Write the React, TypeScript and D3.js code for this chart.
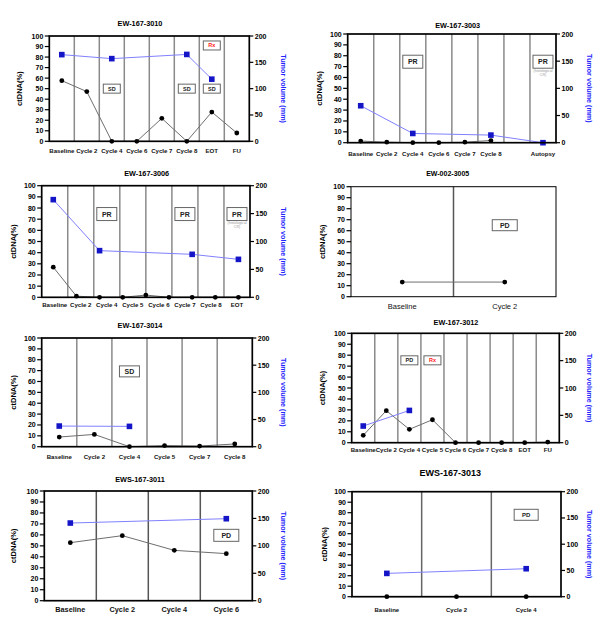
import React from 'react';
import * as d3 from 'd3';

type Note = { text: string; at: number; y: number; kind: 'response' | 'treatment'; sub?: string[] };

// ---------- DATA ----------
const title1 = 'EW-167-3010';
const cats1 = ['Baseline', 'Cycle 2', 'Cycle 4', 'Cycle 6', 'Cycle 7', 'Cycle 8', 'EOT', 'FU'];
const ctdna1 = [57.6, 47.2, 0, 0, 21.8, 0, 27.8, 7.9];
const tumor1 = [164.6, null, 157, null, null, 165, 118, null];
const notes1: Note[] = [
  { text: 'SD', at: 2, y: 50, kind: 'response' },
  { text: 'SD', at: 5, y: 50, kind: 'response' },
  { text: 'SD', at: 6, y: 50, kind: 'response' },
  { text: 'Rx', at: 6, y: 91, kind: 'treatment' },
];

const title2 = 'EW-167-3003';
const cats2 = ['Baseline', 'Cycle 2', 'Cycle 4', 'Cycle 6', 'Cycle 7', 'Cycle 8', '', 'Autopsy'];
const ctdna2 = [1.5, 0.5, 0, 0, 0.5, 2, null, null];
const tumor2 = [68, null, 17, null, null, 14, null, 0];
const notes2: Note[] = [
  { text: 'PR', at: 2, y: 74.5, kind: 'response' },
  { text: 'PR', at: 7, y: 74.5, kind: 'response', sub: ['(histological', 'CR)'] },
];

const title3 = 'EW-167-3006';
const cats3 = ['Baseline', 'Cycle 2', 'Cycle 4', 'Cycle 5', 'Cycle 6', 'Cycle 7', 'Cycle 8', 'EOT'];
const ctdna3 = [27, 1, 0, 0, 2, 0, 0, 0, 0];
const tumor3 = [175, null, 83.6, null, null, null, 77, null, 68];
const notes3: Note[] = [
  { text: 'PR', at: 2, y: 74.6, kind: 'response' },
  { text: 'PR', at: 5, y: 74.6, kind: 'response' },
  { text: 'PR', at: 7, y: 74.6, kind: 'response', sub: ['(histological', 'CR)'] },
];

const title4 = 'EW-002-3005';
const cats4 = ['Baseline', 'Cycle 2'];
const ctdna4 = [13.3, 13.3];
const notes4: Note[] = [{ text: 'PD', at: 1, y: 65, kind: 'response' }];

const title5 = 'EW-167-3014';
const cats5 = ['Baseline', 'Cycle 2', 'Cycle 4', 'Cycle 5', 'Cycle 7', 'Cycle 8'];
const ctdna5 = [8.9, 11.3, 0, 1, 0.6, 2.5];
const tumor5 = [38, null, 37.4, null, null, null];
const notes5: Note[] = [{ text: 'SD', at: 2, y: 69.3, kind: 'response' }];

const title6 = 'EW-167-3012';
const cats6 = ['Baseline', 'Cycle 2', 'Cycle 4', 'Cycle 5', 'Cycle 6', 'Cycle 7', 'Cycle 8', 'EOT', 'FU'];
const ctdna6 = [6.7, 29.3, 12.2, 21, 0, 0, 0, 0, 0.6];
const tumor6 = [30.5, null, 59, null, null, null, null, null, null];
const notes6: Note[] = [
  { text: 'PD', at: 2, y: 75.3, kind: 'response' },
  { text: 'Rx', at: 3, y: 75.3, kind: 'treatment' },
];

const title7 = 'EWS-167-3011';
const cats7 = ['Baseline', 'Cycle 2', 'Cycle 4', 'Cycle 6'];
const ctdna7 = [52.9, 59.3, 45.9, 42.9];
const tumor7 = [141.6, null, null, 149.5];
const notes7: Note[] = [{ text: 'PD', at: 3, y: 59.6, kind: 'response' }];

const title8 = 'EWS-167-3013';
const cats8 = ['Baseline', 'Cycle 2', 'Cycle 4'];
const ctdna8 = [0, 0, 0];
const tumor8 = [44.4, null, 53.3];
const notes8: Note[] = [{ text: 'PD', at: 2, y: 78, kind: 'response' }];

const leftTicks = [0, 10, 20, 30, 40, 50, 60, 70, 80, 90, 100];
const rightTicks = [0, 50, 100, 150, 200];

// ---------- LAYOUT ----------
type Layout = {
  x0: number; x1: number; y0: number; y1: number;
  tx: number; ty: number; tfs: number;
  catY: number; catFs: number; catWeight: number;
  lx: number; rx: number | null;
  bw: number; bh: number; bfs: number;
  frame: number; sep: string;
};

const panels: { title: string; cats: string[]; ctdna: (number | null)[]; tumor: (number | null)[] | null; notes: Note[]; l: Layout }[] = [
  { title: title1, cats: cats1, ctdna: ctdna1, tumor: tumor1, notes: notes1,
    l: { x0: 49.3, x1: 249.3, y0: 36, y1: 141.3, tx: 140, ty: 23, tfs: 7.3, catY: 150.7, catFs: 6.1, catWeight: 700, lx: 19, rx: 283, bw: 17, bh: 9, bfs: 5.5, frame: 1.7, sep: '#8a8a8a' } },
  { title: title2, cats: cats2, ctdna: ctdna2, tumor: tumor2, notes: notes2,
    l: { x0: 347.7, x1: 556, y0: 34, y1: 142.7, tx: 457.7, ty: 25, tfs: 7.3, catY: 154, catFs: 6.1, catWeight: 700, lx: 319.3, rx: 589.3, bw: 20, bh: 13, bfs: 7, frame: 1.7, sep: '#8a8a8a' } },
  { title: title3, cats: cats3, ctdna: ctdna3, tumor: tumor3, notes: notes3,
    l: { x0: 41.7, x1: 250, y0: 185.7, y1: 297.3, tx: 146.7, ty: 173.3, tfs: 7.3, catY: 305, catFs: 6.1, catWeight: 700, lx: 13.3, rx: 283.3, bw: 20, bh: 13, bfs: 7, frame: 1.7, sep: '#8a8a8a' } },
  { title: title4, cats: cats4, ctdna: ctdna4, tumor: null, notes: notes4,
    l: { x0: 351, x1: 556, y0: 186.7, y1: 296.7, tx: 447.7, ty: 173.3, tfs: 7, catY: 306.7, catFs: 7.5, catWeight: 400, lx: 322, rx: null, bw: 25, bh: 11, bfs: 7, frame: 1, sep: '#555' } },
  { title: title5, cats: cats5, ctdna: ctdna5, tumor: tumor5, notes: notes5,
    l: { x0: 41.7, x1: 252.3, y0: 338, y1: 446.7, tx: 140, ty: 325, tfs: 7.3, catY: 456.7, catFs: 6.1, catWeight: 700, lx: 13.3, rx: 283, bw: 20, bh: 11, bfs: 7, frame: 1.7, sep: '#8a8a8a' } },
  { title: title6, cats: cats6, ctdna: ctdna6, tumor: tumor6, notes: notes6,
    l: { x0: 351.7, x1: 559.3, y0: 333.3, y1: 442.7, tx: 456, ty: 322.7, tfs: 7.3, catY: 450, catFs: 6.1, catWeight: 700, lx: 322, rx: 589, bw: 17, bh: 9, bfs: 5.5, frame: 1.7, sep: '#8a8a8a' } },
  { title: title7, cats: cats7, ctdna: ctdna7, tumor: tumor7, notes: notes7,
    l: { x0: 44.3, x1: 252.3, y0: 491, y1: 600.7, tx: 140, ty: 479, tfs: 7.3, catY: 609, catFs: 7.3, catWeight: 700, lx: 13.3, rx: 283, bw: 25, bh: 12, bfs: 7, frame: 1.7, sep: '#555' } },
  { title: title8, cats: cats8, ctdna: ctdna8, tumor: tumor8, notes: notes8,
    l: { x0: 352, x1: 561, y0: 491.7, y1: 596.7, tx: 450.3, ty: 473.3, tfs: 9, catY: 610, catFs: 6, catWeight: 700, lx: 324.3, rx: 589, bw: 24, bh: 11, bfs: 6, frame: 1.7, sep: '#666' } },
];

const FONT = '"Liberation Sans", Arial, sans-serif';

function Panel({ p }: { p: typeof panels[number] }) {
  const l = p.l;
  const x = d3.scaleBand<number>().domain(d3.range(p.cats.length)).range([l.x0, l.x1]);
  const cx = (i: number) => (x(i) as number) + x.bandwidth() / 2;
  const xp = d3.scaleBand<number>().domain(d3.range(p.ctdna.length)).range([l.x0, l.x1]);
  const px = (i: number) => (xp(i) as number) + xp.bandwidth() / 2;
  const y = d3.scaleLinear().domain([0, 100]).range([l.y1, l.y0]);
  const y2 = d3.scaleLinear().domain([0, 200]).range([l.y1, l.y0]);
  const midY = (l.y0 + l.y1) / 2;

  const ctPts = p.ctdna.map((v, i) => ({ v, i }));
  const ctLine = d3.line<{ v: number | null; i: number }>()
    .defined(d => d.v !== null)
    .x(d => px(d.i)).y(d => y(d.v as number));
  const tuPts = (p.tumor || []).map((v, i) => ({ v, i })).filter(d => d.v !== null);
  const tuLine = d3.line<{ v: number | null; i: number }>()
    .x(d => px(d.i)).y(d => y2(d.v as number));

  return (
    <g fontFamily={FONT}>
      <text x={l.tx} y={l.ty + l.tfs * 0.35} textAnchor="middle" fontSize={l.tfs} fontWeight={700}>{p.title}</text>
      {d3.range(1, p.cats.length).map(i => (
        <line key={'s' + i} x1={x(i)} x2={x(i)} y1={l.y0} y2={l.y1} stroke={l.sep} strokeWidth={1.5} />
      ))}
      {p.notes.map((n, k) => {
        const bx = cx(n.at), by = y(n.y);
        return (
          <g key={'n' + k}>
            <rect x={bx - l.bw / 2} y={by - l.bh / 2} width={l.bw} height={l.bh} fill="#fff" stroke="#666" strokeWidth={1} />
            <text x={bx} y={by + l.bfs * 0.36} textAnchor="middle" fontSize={l.bfs} fontWeight={700}
              fill={n.kind === 'treatment' ? '#ff2020' : '#222'}>{n.text}</text>
            {n.sub && n.sub.map((s, j) => (
              <text key={j} x={bx} y={by + l.bh / 2 + 3.8 + j * 3.6} textAnchor="middle" fontSize={3.6} fill="#999">{s}</text>
            ))}
          </g>
        );
      })}
      <path d={ctLine(ctPts) || ''} fill="none" stroke="#6e6e6e" strokeWidth={1} />
      {tuPts.length > 0 && <path d={tuLine(tuPts) || ''} fill="none" stroke="#8080ff" strokeWidth={1} />}
      {ctPts.filter(d => d.v !== null).map(d => (
        <circle key={'c' + d.i} cx={px(d.i)} cy={y(d.v as number)} r={2.4} fill="#000" />
      ))}
      {tuPts.map(d => (
        <rect key={'t' + d.i} x={px(d.i) - 2.8} y={y2(d.v as number) - 2.8} width={5.6} height={5.6} fill="#1515c8" />
      ))}
      <rect x={l.x0} y={l.y0} width={l.x1 - l.x0} height={l.y1 - l.y0} fill="none" stroke="#000" strokeWidth={l.frame} />
      {leftTicks.map(t => (
        <g key={'lt' + t}>
          <line x1={l.x0 - 4.5} x2={l.x0} y1={y(t)} y2={y(t)} stroke="#000" strokeWidth={1.2} />
          <text x={l.x0 - 6} y={y(t) + 2.5} textAnchor="end" fontSize={7} fontWeight={700}>{t}</text>
        </g>
      ))}
      {l.rx !== null && rightTicks.map(t => (
        <g key={'rt' + t}>
          <line x1={l.x1} x2={l.x1 + 4} y1={y2(t)} y2={y2(t)} stroke="#000" strokeWidth={1.2} />
          <text x={l.x1 + 5.5} y={y2(t) + 2.5} textAnchor="start" fontSize={7} fontWeight={700}>{t}</text>
        </g>
      ))}
      {p.cats.map((c, i) => (
        <text key={'cat' + i} x={cx(i)} y={l.catY + l.catFs * 0.36} textAnchor="middle" fontSize={l.catFs} fontWeight={l.catWeight} fill="#111">{c}</text>
      ))}
      <text transform={`translate(${l.lx},${midY}) rotate(-90)`} textAnchor="middle" dy={2.6} fontSize={7.5} fontWeight={700}>ctDNA(%)</text>
      {l.rx !== null && (
        <text transform={`translate(${l.rx},${midY}) rotate(90)`} textAnchor="middle" dy={2.4} fontSize={7.2} fontWeight={700} fill="#2323ff">Tumor volume (mm)</text>
      )}
    </g>
  );
}

export default function App() {
  return (
    <div style={{ position: 'absolute', left: 0, top: 0 }}>
      <svg width={613} height={629} viewBox="0 0 613 629" style={{ display: 'block', background: '#fff' }}>
        <rect width={613} height={629} fill="#fff" />
        {panels.map((p, i) => <Panel key={i} p={p} />)}
      </svg>
    </div>
  );
}
